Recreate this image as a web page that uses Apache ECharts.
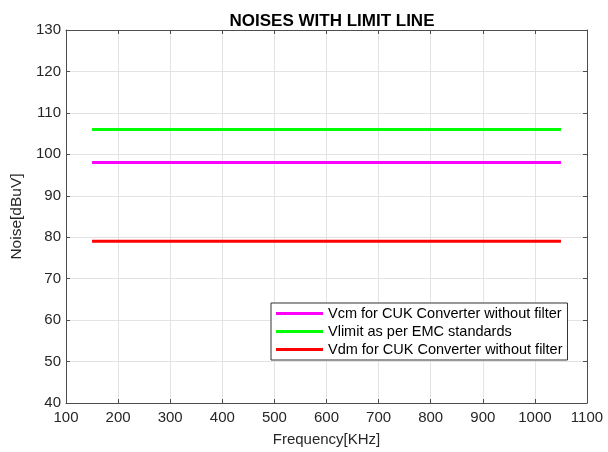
<!DOCTYPE html>
<html>
<head>
<meta charset="utf-8">
<script src="https://cdn.jsdelivr.net/npm/echarts@6/dist/echarts.min.js"></script>
<style>html,body{margin:0;padding:0;background:#fff}#c{width:608px;height:452px}</style>
</head>
<body>
<div id="c"></div>
<script>
const xValues = [150, 1050];
const vcm = [98, 98];
const vlimit = [106, 106];
const vdm = [79, 79];
const seriesNames = ['Vcm for CUK Converter without filter', 'Vlimit as per EMC standards', 'Vdm for CUK Converter without filter'];
const seriesColors = ['#ff00ff', '#00ff00', '#ff0000'];
const seriesData = [vcm, vlimit, vdm];

const chart = echarts.init(document.getElementById('c'), null, {renderer: 'canvas'});
const font = 'Liberation Sans, Arial, sans-serif';
const axisCol = '#262626';
const lineCol = '#4d4d4d';

function xAxisBase(pos, labels) {
  return {
    type: 'value', position: pos, min: 100, max: 1100, interval: 100,
    axisLine: {show: true, onZero: false, lineStyle: {color: lineCol, width: 1}},
    axisTick: {show: true, inside: true, length: 4, lineStyle: {color: lineCol}},
    axisLabel: {show: labels, color: axisCol, fontSize: 15, fontFamily: font, margin: 7,
      formatter: v => String(v)},
    splitLine: {show: labels, lineStyle: {color: '#e3e3e3', width: 1}}
  };
}
function yAxisBase(pos, labels) {
  return {
    type: 'value', position: pos, min: 40, max: 130, interval: 10,
    axisLine: {show: true, onZero: false, lineStyle: {color: lineCol, width: 1}},
    axisTick: {show: true, inside: true, length: 4, lineStyle: {color: lineCol}},
    axisLabel: {show: labels, color: axisCol, fontSize: 15, fontFamily: font, margin: 5,
      formatter: v => String(v)},
    splitLine: {show: labels, lineStyle: {color: '#e3e3e3', width: 1}}
  };
}

const xa = xAxisBase('bottom', true);
xa.name = 'Frequency[KHz]';
xa.nameLocation = 'middle';
xa.nameGap = 29;
xa.nameTextStyle = {color: axisCol, fontSize: 15, fontFamily: font};
const xt = xAxisBase('top', false);
const ya = yAxisBase('left', true);
ya.name = 'Noise[dBuV]';
ya.nameLocation = 'middle';
ya.nameGap = 36;
ya.nameTextStyle = {color: axisCol, fontSize: 15.5, fontFamily: font};
const yr = yAxisBase('right', false);

chart.setOption({
  backgroundColor: '#ffffff',
  animation: false,
  title: {
    text: 'NOISES WITH LIMIT LINE', left: 327, top: 8, textAlign: 'center',
    textStyle: {fontSize: 17, fontWeight: 'bold', color: '#000', fontFamily: font}
  },
  grid: {left: 66, right: 21, top: 30, bottom: 48, containLabel: false},
  xAxis: [xa, xt],
  yAxis: [ya, yr],
  legend: {
    orient: 'vertical', left: 271, top: 303,
    data: seriesNames,
    itemWidth: 47, itemHeight: 3, itemGap: 3,
    icon: 'rect',
    backgroundColor: '#ffffff', borderColor: '#333', borderWidth: 1,
    padding: [3, 5, 3, 5],
    textStyle: {color: '#000', fontSize: 14.5, fontFamily: font}
  },
  series: seriesNames.map((n, i) => ({
    name: n, type: 'line', xAxisIndex: 0, yAxisIndex: 0,
    data: xValues.map((x, j) => [x, seriesData[i][j]]),
    showSymbol: false, symbol: 'none',
    lineStyle: {color: seriesColors[i], width: 3},
    itemStyle: {color: seriesColors[i]}
  }))
});
</script>
</body>
</html>
